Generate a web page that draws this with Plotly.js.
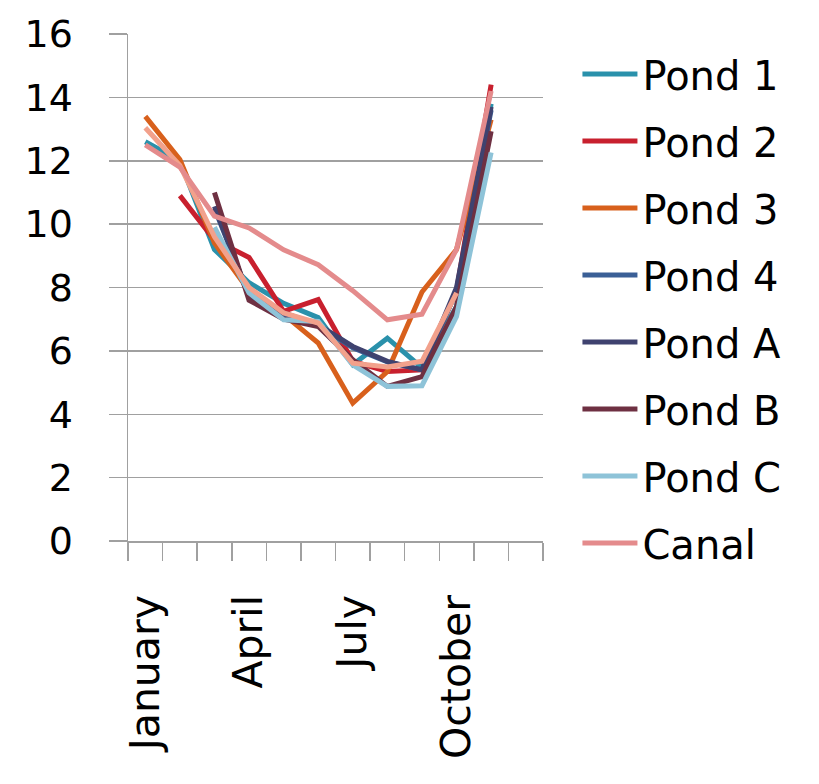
<!DOCTYPE html>
<html>
<head>
<meta charset="utf-8">
<script src="https://cdn.plot.ly/plotly-3.0.1.min.js"></script>
<style>html,body{margin:0;padding:0;background:#fff;}#chart{width:819px;height:784px;}</style>
</head>
<body>
<div id="chart"></div>
<script>
var months = ["January","February","March","April","May","June","July","August","September","October","November","December"];
var monthLabels = ["January","","","April","","","July","","","October","",""];
var yTicks = [0,2,4,6,8,10,12,14,16];

var seriesNames = ["Pond 1","Pond 2","Pond 3","Pond 4","Pond A","Pond B","Pond C","Canal"];
var pond1  = [12.6, 12.0, 9.2, 8.15, 7.5, 7.05, 5.56, 6.4, 5.47, 7.4, 13.8, null];
var pond2  = [null, 10.9, 9.5, 8.95, 7.25, 7.62, 5.67, 5.35, 5.4, 7.9, 14.4, null];
var pond3  = [13.4, 12.04, 9.4, 7.9, 7.15, 6.25, 4.35, 5.35, 7.86, 9.2, 13.3, null];
var pond4  = [null, null, 10.5, 7.75, 7.15, 6.8, 6.1, 5.65, 5.4, 7.9, 13.6, null];
var pondA  = [null, null, 10.56, 7.72, 7.2, 6.82, 6.14, 5.67, 5.4, 8.0, 13.7, null];
var pondB  = [null, null, 11.0, 7.6, 7.0, 6.77, 5.72, 4.88, 5.19, 7.4, 12.93, null];
var pondC  = [null, null, 9.9, 7.83, 6.98, 6.93, 5.56, 4.88, 4.9, 7.09, 12.26, null];
var canal  = [12.5, 11.8, 10.25, 9.88, 9.19, 8.72, 7.9, 6.98, 7.16, 9.2, 14.2, null];
var extra  = [13.04, 11.85, 9.6, 8.0, 7.2, 6.88, 5.61, 5.49, 5.67, 7.83, null, null];

var colors = ["#2A91AB","#C8202E","#D8601C","#3A5F96","#3F426F","#6E3042","#8EC3D8","#E48B8C"];
var values = [pond1, pond2, pond3, pond4, pondA, pondB, pondC, canal];

var FONT = "DejaVu Sans, sans-serif";
var traces = [];
for (var i = 0; i < seriesNames.length; i++) {
  traces.push({
    type: "scatter", mode: "lines", name: seriesNames[i],
    x: months, y: values[i], legendgroup: "g" + i,
    line: {color: colors[i], width: 5},
    connectgaps: false
  });
  if (i === 6) {
    traces.push({
      type: "scatter", mode: "lines", name: "", showlegend: false,
      x: months, y: extra, line: {color: "#F2A18C", width: 5}, connectgaps: false
    });
  }
}
var layout = {
  width: 819, height: 784,
  margin: {l: 128, r: 276, t: 34, b: 243},
  paper_bgcolor: "#ffffff", plot_bgcolor: "#ffffff",
  font: {family: FONT, color: "#000000", size: 37},
  showlegend: true,
  legend: {
    x: 1.083, xanchor: "left", y: 0.985, yanchor: "top",
    traceorder: "grouped", tracegroupgap: 12,
    itemwidth: 55, maxheight: 770,
    font: {family: FONT, size: 40, color: "#000"},
    bgcolor: "rgba(0,0,0,0)"
  },
  xaxis: {
    type: "category", range: [-0.5, 11.5],
    tickmode: "array", tickvals: months, ticktext: monthLabels,
    tickson: "boundaries", ticks: "outside", ticklen: 18, tickcolor: "#A0A0A0", tickwidth: 1.5,
    ticklabelstandoff: 36,
    tickangle: -90, tickfont: {size: 41, family: FONT},
    showgrid: false, showline: true, linecolor: "#A0A0A0", linewidth: 1.5,
    zeroline: false, fixedrange: true
  },
  yaxis: {
    range: [0, 16], tickmode: "array", tickvals: yTicks,
    ticks: "outside", ticklen: 18, tickcolor: "#A0A0A0", tickwidth: 1.5,
    ticklabelstandoff: 28,
    showgrid: true, gridcolor: "#A0A0A0", gridwidth: 1.5,
    showline: true, linecolor: "#A0A0A0", linewidth: 1.5,
    zeroline: false, tickfont: {size: 38, family: FONT}, fixedrange: true
  }
};
Plotly.newPlot("chart", traces, layout, {displayModeBar: false, staticPlot: true});
</script>
</body>
</html>
